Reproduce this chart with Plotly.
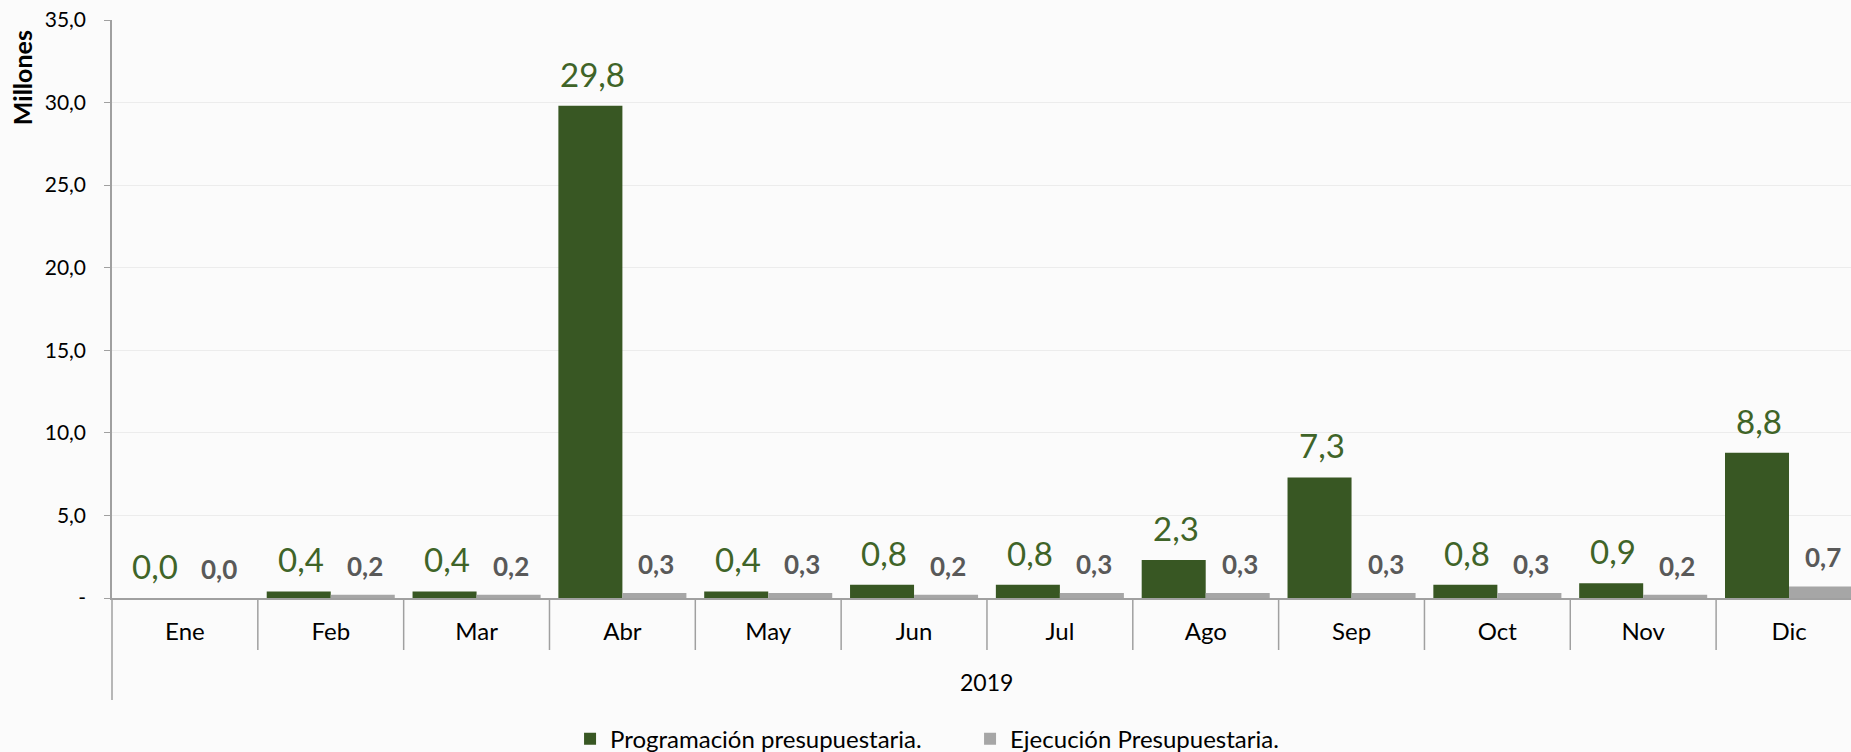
import plotly.graph_objects as go

meses = ["Ene", "Feb", "Mar", "Abr", "May", "Jun", "Jul", "Ago", "Sep", "Oct", "Nov", "Dic"]
programacion = [0.0, 0.4, 0.4, 29.8, 0.4, 0.8, 0.8, 2.3, 7.3, 0.8, 0.9, 8.8]
ejecucion = [0.0, 0.2, 0.2, 0.3, 0.3, 0.2, 0.3, 0.3, 0.3, 0.3, 0.2, 0.7]
anio = "2019"
y_ticks = [0, 5, 10, 15, 20, 25, 30, 35]
y_labels = ["-", "5,0", "10,0", "15,0", "20,0", "25,0", "30,0", "35,0"]

VERDE = "#385723"
VERDE_TXT = "#3f6428"
GRIS = "#a6a6a6"
GRIS_TXT = "#595959"
EJE = "#a0a0a0"
FONT = "Lato"


def fmt(v):
    return "{:.1f}".format(v).replace(".", ",")


fig = go.Figure()
fig.add_trace(go.Bar(x=meses, y=programacion, name="Programación presupuestaria.",
                     marker=dict(color=VERDE, line=dict(width=0))))
fig.add_trace(go.Bar(x=meses, y=ejecucion, name="Ejecución Presupuestaria.",
                     marker=dict(color=GRIS, line=dict(width=0))))

# etiquetas de datos
for m, p, e in zip(meses, programacion, ejecucion):
    fig.add_annotation(x=m, y=p, xref="x", yref="y", text=fmt(p), showarrow=False,
                       xshift=-30, yshift=10, yanchor="bottom",
                       font=dict(family=FONT, size=33, color=VERDE_TXT))
    fig.add_annotation(x=m, y=e, xref="x", yref="y", text="<b>" + fmt(e) + "</b>", showarrow=False,
                       xshift=34, yshift=11, yanchor="bottom",
                       font=dict(family=FONT, size=26, color=GRIS_TXT))

# divisiones entre meses
for i in range(len(meses) - 1):
    fig.add_shape(type="line", xref="x", yref="paper", x0=i + 0.5, x1=i + 0.5, y0=0, y1=-0.09,
                  line=dict(color=EJE, width=1.5))
fig.add_shape(type="line", xref="paper", yref="paper", x0=0, x1=0, y0=0, y1=-0.1765,
              line=dict(color=EJE, width=1.5))

fig.add_annotation(x=5.5, y=-0.1453, xref="x", yref="paper", text=anio, showarrow=False,
                   yanchor="middle", font=dict(family=FONT, size=23, color="black"))
fig.add_annotation(x=-0.0518, y=0.901, xref="paper", yref="paper", text="<b>Millones</b>",
                   showarrow=False, textangle=-90, xanchor="center", yanchor="middle",
                   font=dict(family=FONT, size=25, color="black"))

fig.update_layout(
    width=1851, height=752,
    margin=dict(l=112, r=0, t=20, b=154, autoexpand=False),
    paper_bgcolor="#fbfbfb", plot_bgcolor="#fbfbfb",
    barmode="group", bargap=0.122, bargroupgap=0,
    font=dict(family=FONT, color="black"),
    showlegend=True,
    legend=dict(orientation="h", x=0.2634, xanchor="left", y=-0.244, yanchor="middle",
                entrywidth=355, entrywidthmode="pixels",
                font=dict(family=FONT, size=24, color="black"), bgcolor="rgba(0,0,0,0)"),
    xaxis=dict(range=[-0.5, 11.425], showline=True, linecolor=EJE, linewidth=1.5,
               ticks="", showgrid=False, tickfont=dict(family=FONT, size=24, color="black"),
               ticklabelstandoff=11, automargin=False),
    yaxis=dict(range=[0, 35], tickvals=y_ticks, ticktext=y_labels, showline=True,
               linecolor=EJE, linewidth=1.5, ticks="outside", ticklen=6, tickcolor=EJE,
               showgrid=True, gridcolor="#ececec", gridwidth=1, zeroline=False,
               tickfont=dict(family=FONT, size=21, color="black"), ticklabelstandoff=14,
               automargin=False),
)

fig.write_html("out.html", config={"displayModeBar": False},
               post_script="document.body.style.margin='0px';")
